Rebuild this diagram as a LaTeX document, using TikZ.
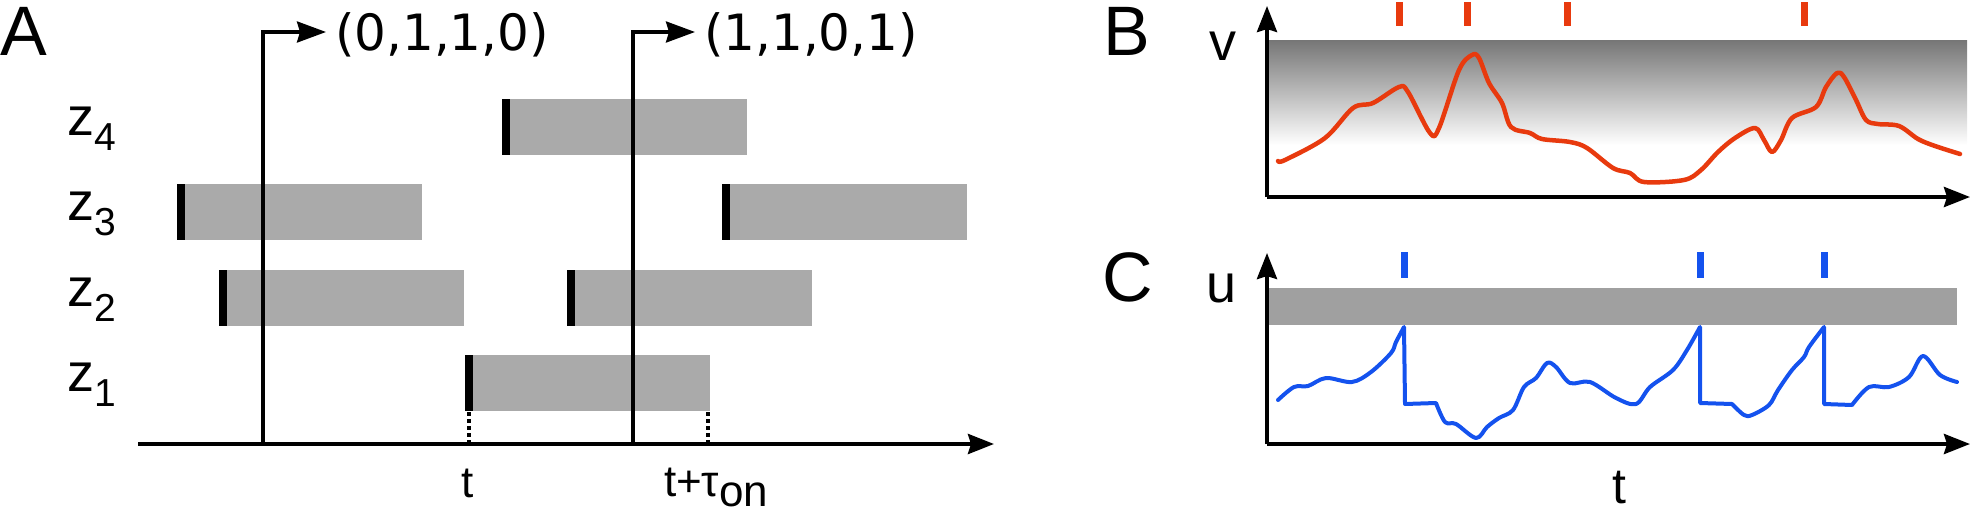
\documentclass[tikz,border=0pt]{standalone}
\usepackage{fontspec}
\setmainfont{Liberation Sans}
\newfontfamily\dejavu{DejaVu Sans}
\usetikzlibrary{arrows.meta}
\definecolor{barg}{RGB}{170,170,170}
\definecolor{bandg}{RGB}{160,160,160}
\definecolor{gradtop}{RGB}{118,118,118}
\definecolor{spkred}{RGB}{232,58,14}
\definecolor{spkblue}{RGB}{20,82,238}
\newcommand{\onbar}[2]{\fill[barg] (#1,#2) rectangle ++(245,56); \fill[black] (#1,#2) rectangle ++(8,56);}
\newcommand{\fs}[1]{\fontsize{#1}{#1}\selectfont}
\begin{document}
\begin{tikzpicture}[x=1pt,y=-1pt,
  axisline/.style={line width=4pt,-{Stealth[length=26pt,width=20pt,inset=3pt]}},
  readout/.style={line width=3.3pt,-{Stealth[length=29pt,width=21pt,inset=3pt]}},
  tickdots/.style={line width=3.5pt,dash pattern=on 4pt off 3pt},
  lab/.style={inner sep=0pt,outer sep=0pt},
  spike/.style={line width=7pt},
  trace/.style={line width=4.5pt,line cap=round,line join=round}]
\useasboundingbox (0,0) rectangle (1972,514);

% ---------------- Panel A ----------------
\onbar{502}{99}
\onbar{177}{184}
\onbar{722}{184}
\onbar{219}{270}
\onbar{567}{270}
\onbar{465}{355}

\coordinate (a0) at (138,444);
\coordinate (a1) at (994,444);
\coordinate (r1b) at (263,444);
\coordinate (r1c) at (263,32);
\coordinate (r1e) at (326,32);
\coordinate (r2b) at (633,444);
\coordinate (r2c) at (633,32);
\coordinate (r2e) at (695,32);
\coordinate (t0a) at (469,412);
\coordinate (t0b) at (469,444);
\coordinate (t1a) at (708,412);
\coordinate (t1b) at (708,444);

\draw[readout] (r1b) -- (r1c) -- (r1e);
\draw[readout] (r2b) -- (r2c) -- (r2e);
\draw[tickdots] (t0a) -- (t0b);
\draw[tickdots] (t1a) -- (t1b);
\draw[axisline] (a0) -- (a1);

\node[lab,anchor=base west] (lA) at (0,55) {\fs{70}A};
\node[lab,anchor=base west] (tup1) at (335,50.5) {\dejavu\fs{50}(0,1,1,0)};
\node[lab,anchor=base west] (tup2) at (704,50.5) {\dejavu\fs{50}(1,1,0,1)};
\node[lab,anchor=base west] (z4) at (67,135) {\fs{54}z\raisebox{-15pt}{\fs{39}4}};
\node[lab,anchor=base west] (z3) at (67,220) {\fs{54}z\raisebox{-15pt}{\fs{39}3}};
\node[lab,anchor=base west] (z2) at (67,306) {\fs{54}z\raisebox{-15pt}{\fs{39}2}};
\node[lab,anchor=base west] (z1) at (67,391) {\fs{54}z\raisebox{-15pt}{\fs{39}1}};
\node[lab,anchor=base] (tA) at (468,497) {\fs{44}t};
\node[lab,anchor=base west] (ttau) at (664,496) {\fs{44}t+τ\raisebox{-10pt}{on}};

% ---------------- Panel B ----------------
\shade[top color=gradtop,bottom color=white] (1269,40) rectangle (1967,145);
\coordinate (bo) at (1267,197);
\coordinate (bx) at (1970,197);
\coordinate (by) at (1267,6);
\draw[axisline] (bo) -- (by);
\draw[axisline] (bo) -- (bx);
\node[lab,anchor=base west] (lB) at (1103,55) {\fs{70}B};
\node[lab,anchor=base west] (lv) at (1209,60) {\fs{54}v};
\foreach \x in {1399,1467,1567,1804} \draw[spike,spkred] (\x,2) -- (\x,26);
\draw[trace,spkred] plot[smooth,tension=0.55] coordinates {
 (1278,161) (1285,160) (1325,138) (1353,108) (1373,103) (1399,87) (1408,92)
 (1430,133) (1439,128) (1459,70) (1472,55) (1479,58) (1489,83) (1502,103)
 (1511,127) (1530,133) (1542,139) (1570,142) (1587,148) (1613,168) (1630,173)
 (1644,182) (1684,180) (1701,170) (1718,152) (1735,138) (1755,128) (1764,140)
 (1772,152) (1781,140) (1792,118) (1816,107) (1826,87) (1837,73) (1844,77)
 (1856,100) (1866,120) (1878,124) (1899,126) (1918,139) (1935,146) (1960,154)};

% ---------------- Panel C ----------------
\fill[bandg] (1269,288) rectangle (1957,325);
\coordinate (co) at (1267,444);
\coordinate (cx) at (1970,444);
\coordinate (cy) at (1267,253);
\draw[axisline] (co) -- (cy);
\draw[axisline] (co) -- (cx);
\node[lab,anchor=base west] (lC) at (1102,301) {\fs{70}C};
\node[lab,anchor=base west] (lu) at (1206,302) {\fs{54}u};
\node[lab,anchor=base] (tC) at (1619,503) {\fs{50}t};
\foreach \x in {1404,1700,1824} \draw[spike,spkblue] (\x,252) -- (\x,278);
\draw[trace,line width=4pt,spkblue]
 plot[smooth,tension=0.55] coordinates {(1278,400) (1294,387) (1308,386) (1326,378) (1352,382) (1371,372) (1391,353) (1396,342) (1404,327)}
 -- (1405,404)
 -- plot[smooth,tension=0.55] coordinates {(1436,403) (1445,422) (1456,424) (1476,438) (1487,427) (1499,418) (1513,410) (1524,387) (1536,378) (1547,363) (1556,367) (1570,383) (1590,382) (1616,398) (1636,404) (1650,387) (1673,370) (1687,350) (1700,327)}
 -- (1700,403)
 -- plot[smooth,tension=0.55] coordinates {(1732,404) (1744,415) (1752,415) (1769,405) (1778,390) (1792,370) (1804,357) (1809,347) (1824,327)}
 -- (1824,404)
 -- plot[smooth,tension=0.55] coordinates {(1852,405) (1869,387) (1889,387) (1909,377) (1923,356) (1940,375) (1957,382)};
\end{tikzpicture}
\end{document}
